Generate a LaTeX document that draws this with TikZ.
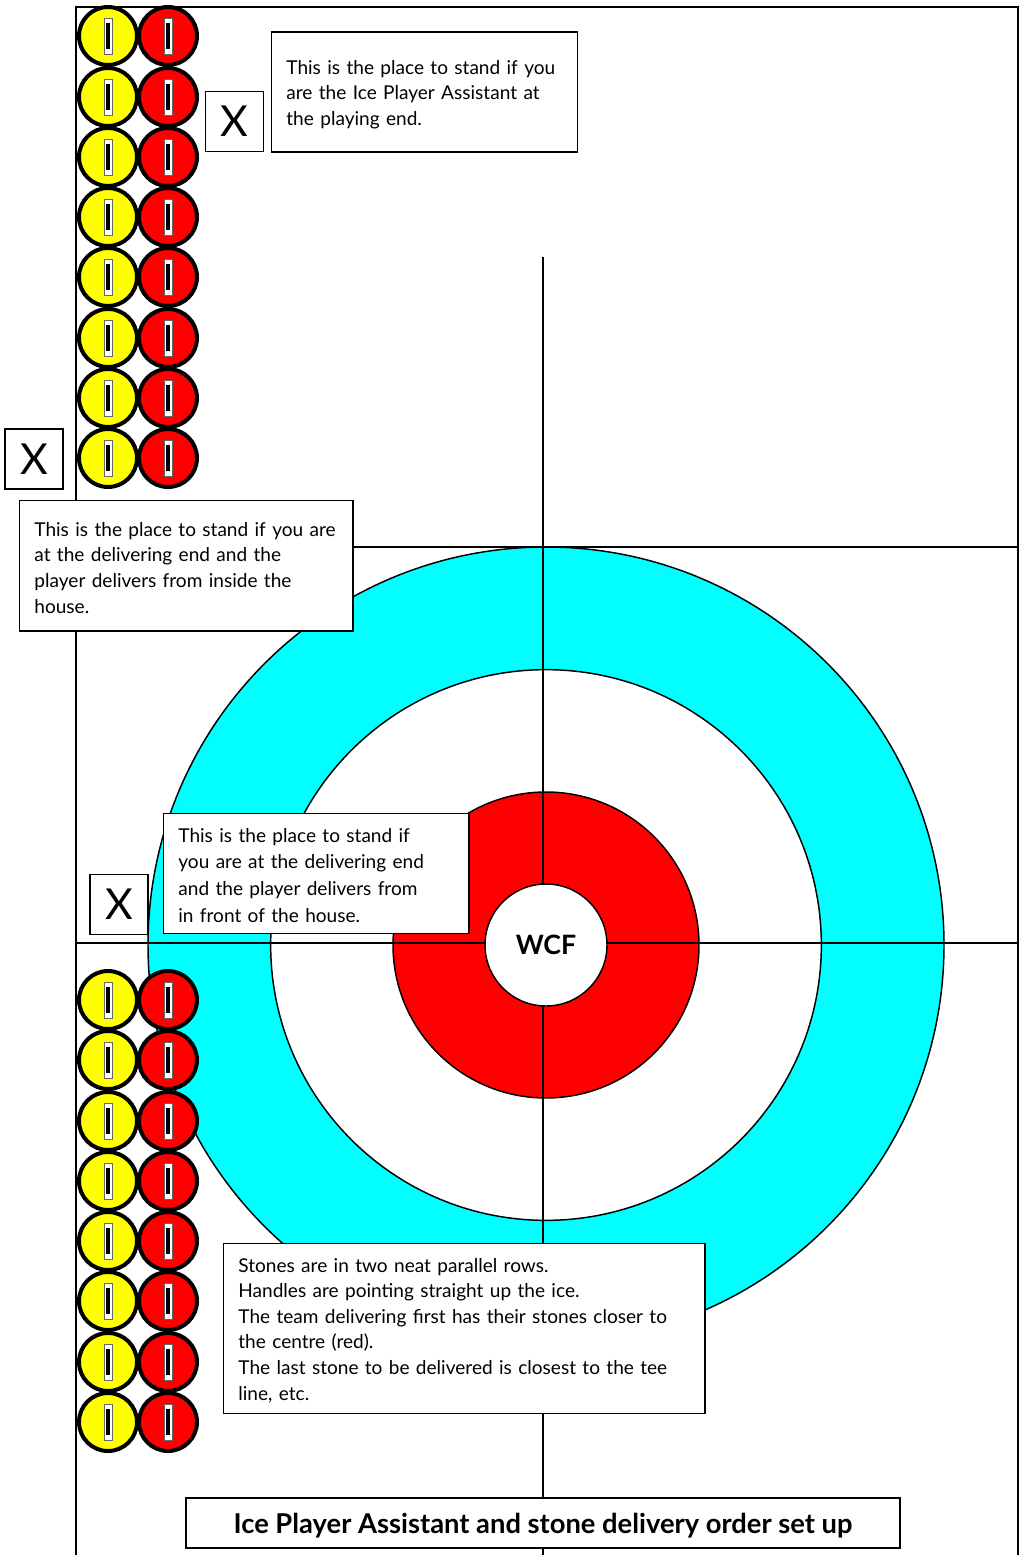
\documentclass[tikz,border=0pt]{standalone}
\usepackage{fontspec}
\setmainfont{Lato}
\usetikzlibrary{positioning}
\definecolor{stoneyellow}{RGB}{255,255,0}
\definecolor{stonered}{RGB}{255,0,0}
\definecolor{ringcyan}{RGB}{0,255,255}
\tikzset{
    ring/.style={circle, draw=black, line width=1.1pt, inner sep=0pt},
    stone/.style={circle, draw=black, line width=3pt, minimum size=43.5pt, inner sep=0pt},
    notebox/.style={draw=black, line width=1.35pt, fill=white, align=left, anchor=north west, inner ysep=0pt, inner xsep=11.25pt, font=\fontsize{14.3}{19.2}\selectfont, execute at begin node={\rule{0pt}{13.5pt}}},
    markbox/.style={draw=black, line width=1.35pt, fill=white, minimum width=43.5pt, minimum height=45pt, inner sep=0pt, font=\fontsize{32}{32}\selectfont},
    iceline/.style={line width=1.2pt, black}
}
\newcommand{\stonepair}[1]{%
    \node[stone, fill=stoneyellow] (y#1) at (108,#1) {};
    \node[stone, fill=stonered] (r#1) at (168,#1) {};
    \foreach \sx in {108,168} {
        \fill[white, draw=black!60, line width=0.5pt] (\sx-4,#1-18) rectangle (\sx+4,#1+18);
        \fill[black] (\sx-1.8,#1-13) rectangle (\sx+1.8,#1+13);
    }
}
\begin{document}
\begin{tikzpicture}[x=0.75pt, y=-0.75pt]
    \useasboundingbox (0,0) rectangle (1019,1555);
    % house
    \node[ring, fill=ringcyan, minimum size=597pt] (twelve) at (546,945) {};
    \node[ring, fill=white, minimum size=413pt] (eight) at (546,945) {};
    \node[ring, fill=stonered, minimum size=229.5pt] (four) at (546,945) {};
    % ice lines
    \draw[iceline] (76,1555) -- (76,7) -- (1018,7) -- (1018,1555);
    \draw[iceline] (543,257) -- (543,1555);
    \draw[iceline] (300,547) -- (1019,547);
    \draw[iceline] (76,943) -- (1019,943);
    \node[ring, fill=white, minimum size=91.5pt, font=\fontsize{20}{20}\selectfont\bfseries] (button) at (546,945) {WCF};
    % stones
    \foreach \sy in {36,97,157,217,277,338,398,458,1000,1060,1121,1181,1241,1301,1362,1422} {
        \stonepair{\sy}
    }
    % marks
    \node[markbox] (markplay) at (234.5,121.5) {X};
    \node[markbox] (markinside) at (34,459) {X};
    \node[markbox] (markfront) at (119,904.5) {X};
    % notes
    \node[notebox, minimum width=229.5pt, minimum height=90pt, text width=207pt] (noteplay) at (270.5,31.5) {This is the place to stand if you\\are the Ice Player Assistant at\\the playing end.};
    \node[notebox, minimum width=250pt, minimum height=98pt, text width=227.5pt] (noteinside) at (18.5,499.5) {\mbox{This is the place to stand if you are}\\at the delivering end and the\\player delivers from inside the\\house.};
    \node[notebox, minimum width=229pt, minimum height=90pt, text width=206.5pt, font=\fontsize{14.3}{20}\selectfont] (notefront) at (162.5,812.5) {This is the place to stand if\\you are at the delivering end\\and the player delivers from\\in front of the house.};
    \node[notebox, minimum width=361pt, minimum height=127.5pt, text width=338.5pt] (noterows) at (222.5,1242.5) {Stones are in two neat parallel rows.\\Handles are pointing straight up the ice.\\The team delivering first has their stones closer to\\the centre (red).\\The last stone to be delivered is closest to the tee\\line, etc.};
    % title
    \node[draw=black, line width=1.35pt, fill=white, minimum width=535.5pt, minimum height=37.5pt, inner sep=0pt, text depth=0pt, font=\fontsize{20.5}{21}\selectfont\bfseries] (title) at (543,1523) {Ice Player Assistant and stone delivery order set up};
\end{tikzpicture}
\end{document}
